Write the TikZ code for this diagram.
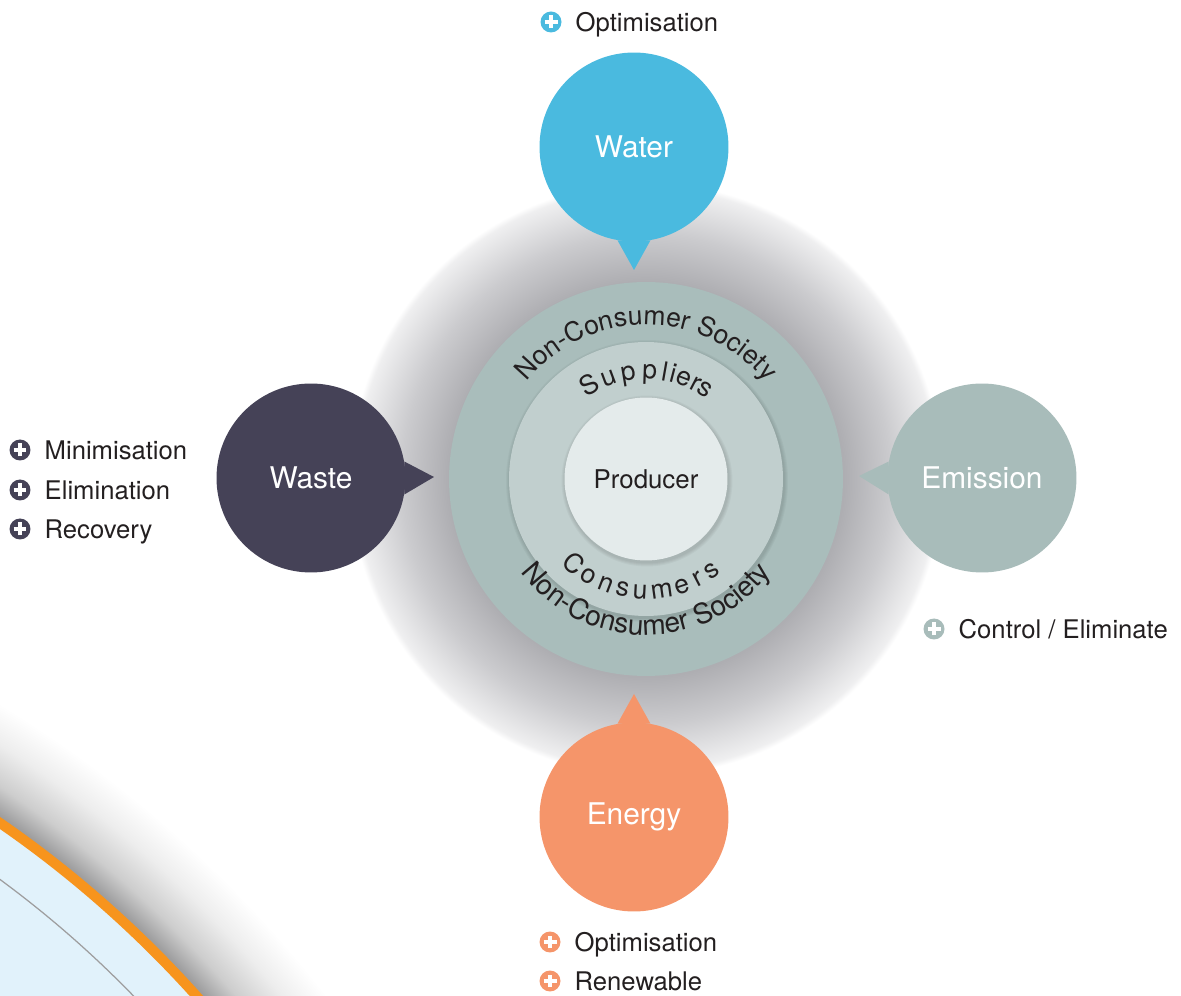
\documentclass[tikz,border=0pt]{standalone}
\usepackage{fontspec}
\setmainfont{TeX Gyre Heros}
\usetikzlibrary{positioning,decorations.text}

\definecolor{watercol}{HTML}{4ABADF}
\definecolor{wastecol}{HTML}{454257}
\definecolor{emissioncol}{HTML}{A8BCBA}
\definecolor{energycol}{HTML}{F5956A}
\definecolor{ringout}{HTML}{A9BDBB}
\definecolor{ringmid}{HTML}{C1CFCE}
\definecolor{ringin}{HTML}{E4EBEB}
\definecolor{halodark}{HTML}{AEAEB2}
\definecolor{halomid}{HTML}{CBCBCE}
\definecolor{halolight}{HTML}{EFEFF0}
\definecolor{swooshblue}{HTML}{E1F2FB}
\definecolor{swooshorange}{HTML}{F7941D}
\definecolor{swooshgray}{HTML}{9E9E9F}
\definecolor{swooshmid}{HTML}{CDCDCD}
\definecolor{swooshlight}{HTML}{EDEDED}
\definecolor{textdark}{HTML}{231F20}

\newcommand\arcfont{\fontsize{15.1}{18}\selectfont}
\newcommand\arcfontlow{\fontsize{16}{19}\selectfont}

\pgfdeclareradialshading{haloshade}{\pgfpoint{0bp}{0bp}}{color(0bp)=(halodark); color(16.5bp)=(halodark); color(20.4bp)=(halomid); color(24.2bp)=(halolight); color(24.7bp)=(white); color(50bp)=(white)}
\pgfdeclareradialshading{swooshshade}{\pgfpoint{0bp}{0bp}}{color(0bp)=(swooshgray); color(22.32bp)=(swooshgray); color(22.8bp)=(swooshmid); color(23.5bp)=(swooshlight); color(24.2bp)=(white); color(50bp)=(white)}

\begin{document}
\begin{tikzpicture}[x=0.02cm, y=0.02cm,
		bubble/.style={circle, minimum size=3.78cm, inner sep=0pt, text=white, font=\fontsize{17}{20}\selectfont},
		ring/.style={circle, inner sep=0pt},
		plusicon/.style={circle, fill=#1, minimum size=0.42cm, inner sep=0pt,
			path picture={\draw[white, line width=0.08cm]
				([xshift=-0.13cm]path picture bounding box.center) -- ([xshift=0.13cm]path picture bounding box.center)
				([yshift=-0.13cm]path picture bounding box.center) -- ([yshift=0.13cm]path picture bounding box.center);}},
		itemtext/.style={inner sep=0pt, anchor=west, text=textdark, text height=0.37cm, text depth=0cm, font=\fontsize{14.6}{17}\selectfont},
		arcletter/.style={anchor=base, inner sep=0pt, text=textdark, font=\arcfont},
		arctext/.style={decorate, decoration={text along path, text color=textdark, text align=center, text={|\arcfont|#1}}}]
					% Moldura
					\useasboundingbox (0,0) rectangle (1181,-996);
					\clip (0,0) rectangle (1181,-996);
					
					% Canto
					\coordinate (corner) at (-630,-1737);
					\shade[shading=swooshshade] (corner) circle[radius=1250];
					\fill[swooshblue] (corner) circle[radius=1110];
					\draw[swooshgray, line width=0.025cm] (corner) circle[radius=1064];
					\draw[swooshorange, line width=0.2cm] (corner) circle[radius=1110];
					
					% Sombra
					\coordinate (ctr) at (646,-479);
					\shade[shading=haloshade] (ctr) circle[radius=300];
					
					% Aneis
					\node[ring, fill=ringout, minimum size=7.88cm] (society) at (ctr) {};
					\foreach \k in {1,...,4}
						\fill[black, opacity=0.03] ([shift={(1,-2)}]ctr) circle[radius=137+\k];
					\node[ring, fill=ringmid, minimum size=5.48cm] (suppliers) at (ctr) {};
					\foreach \k in {1,...,4}
						\fill[black, opacity=0.03] ([shift={(1,-2)}]ctr) circle[radius=81.5+\k];
					\node[ring, fill=ringin, minimum size=3.26cm, text=textdark, font=\fontsize{14.7}{17}\selectfont] (producer) at (ctr) {Producer};
					
					% Textos curvos
					\path[arctext={Non-Consumer Society}] ([shift={(150:154)}]ctr) arc[start angle=150, end angle=30, radius=154];
					\path[arctext={Non-Consumer Society}, decoration={text={|\arcfontlow|Non-Consumer Society}}] ([shift={(205:156)}]ctr) arc[start angle=205, end angle=335, radius=156];
					\foreach \ch/\a [count=\i] in {S/121, u/110.5, p/99.5, p/88, l/80, i/75.5, e/69, r/62.5, s/56.5}
						\node[arcletter, rotate=\a-90] (sup\i) at ([shift={(\a:100)}]ctr) {\ch};
					\foreach \ch/\a [count=\i] in {C/229.5, o/239.5, n/249, s/258, u/267, m/278, e/288.5, r/297.5, s/305.5}
						\node[arcletter, rotate=\a+90] (con\i) at ([shift={(\a:120)}]ctr) {\ch};
					
					% Baloes
					\node[bubble, fill=watercol] (water) at (634,-147) {Water};
					\coordinate (watertip) at (634,-270);
					\fill[watercol] (water.260) -- (watertip) -- (water.280) -- cycle;
					
					\node[bubble, fill=wastecol] (waste) at (311,-478) {Waste};
					\coordinate (wastetip) at (434,-477);
					\fill[wastecol] (waste.10) -- (wastetip) -- (waste.350) -- cycle;
					
					\node[bubble, fill=emissioncol] (emission) at (982,-478) {Emission};
					\coordinate (emissiontip) at (859,-476);
					\fill[emissioncol] (emission.170) -- (emissiontip) -- (emission.190) -- cycle;
					
					\node[bubble, fill=energycol] (energy) at (634,-817) {Energy};
					\coordinate (energytip) at (634,-694);
					\fill[energycol] (energy.80) -- (energytip) -- (energy.100) -- cycle;
					
					% Listas
					\node[plusicon=watercol] (wateri) at (551,-22) {};
					\node[itemtext, right=0.27cm of wateri] (wateropt) {Optimisation};
					
					\node[plusicon=wastecol] (wastei1) at (20,-450) {};
					\node[itemtext, right=0.27cm of wastei1] (wastemin) {Minimisation};
					\node[plusicon=wastecol] (wastei2) at (20,-490) {};
					\node[itemtext, right=0.27cm of wastei2] (wasteelim) {Elimination};
					\node[plusicon=wastecol] (wastei3) at (20,-529) {};
					\node[itemtext, right=0.27cm of wastei3] (wasterec) {Recovery};
					
					\node[plusicon=emissioncol] (emissioni) at (934,-629) {};
					\node[itemtext, right=0.27cm of emissioni] (emissionctl) {Control / Eliminate};
					
					\node[plusicon=energycol] (energyi1) at (550,-942) {};
					\node[itemtext, right=0.27cm of energyi1] (energyopt) {Optimisation};
					\node[plusicon=energycol] (energyi2) at (550,-981) {};
					\node[itemtext, right=0.27cm of energyi2] (energyren) {Renewable};
				\end{tikzpicture}
\end{document}
